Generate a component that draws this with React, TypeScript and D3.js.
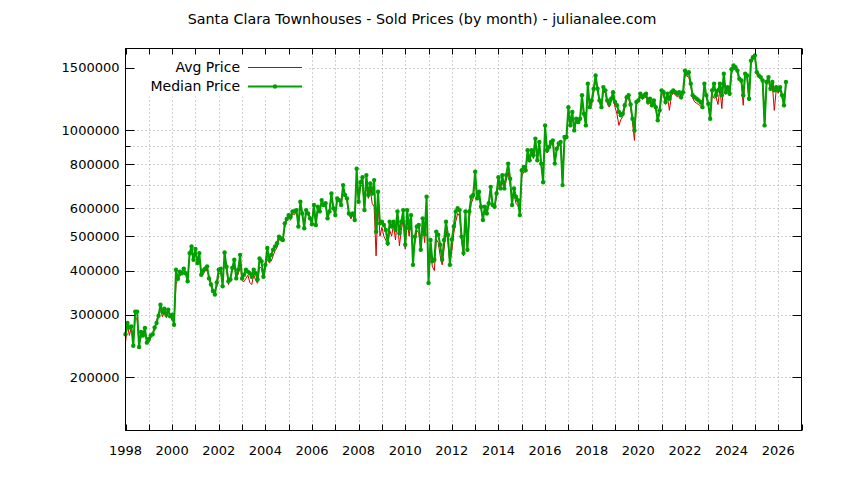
import { useEffect, useRef } from "react";
import * as d3 from "d3";

// first month of the series (Jan 1998), one value per month after that
const startYear = 1998;

// median sold price per month, in $1000s, one row per year
const medianPrice = [
  264, 284, 276, 278, 245, 306, 306, 243, 268, 262, 275, 250,
  256, 262, 264, 276, 284, 298, 320, 305, 312, 300, 310, 297,
  300, 281, 402, 379, 397, 393, 405, 393, 373, 448, 468, 429,
  460, 420, 448, 389, 400, 405, 411, 380, 365, 350, 342, 370,
  402, 405, 361, 450, 410, 373, 377, 407, 429, 380, 402, 443,
  380, 389, 402, 397, 393, 384, 402, 393, 377, 433, 425, 384,
  415, 463, 429, 443, 458, 468, 478, 499, 493, 488, 544, 560,
  574, 568, 588, 588, 593, 533, 626, 580, 527, 593, 580, 562,
  541, 613, 538, 606, 588, 633, 613, 620, 562, 588, 661, 600,
  574, 640, 633, 613, 698, 654, 640, 580, 574, 580, 556, 777,
  626, 711, 735, 593, 745, 654, 705, 661, 721, 515, 668, 544,
  550, 538, 521, 478, 550, 533, 550, 521, 588, 510, 550, 593,
  473, 593, 527, 574, 415, 499, 533, 538, 458, 562, 507, 647,
  369, 488, 425, 429, 515, 505, 473, 429, 488, 550, 504, 415,
  490, 533, 588, 600, 593, 499, 448, 588, 458, 588, 647, 654,
  761, 640, 668, 606, 556, 606, 580, 620, 690, 613, 606, 661,
  735, 683, 745, 683, 745, 803, 728, 613, 683, 647, 633, 574,
  769, 786, 769, 876, 821, 876, 848, 945, 821, 924, 803, 711,
  1030, 876, 895, 924, 934, 803, 885, 915, 924, 698, 955, 955,
  1160, 1030, 1124, 997, 1076, 1052, 1076, 1253, 1112, 1030, 1351, 1160,
  1212, 1308, 1425, 1308, 1212, 1160, 1322, 1294, 1212, 1186, 1225, 1279,
  1199, 1174, 1124, 1100, 1112, 1174, 1238, 1253, 1180, 1076, 997, 1199,
  1212, 1266, 1238, 1253, 1266, 1199, 1225, 1174, 1212, 1160, 1065, 1136,
  1294, 1279, 1199, 1266, 1225, 1279, 1294, 1279, 1266, 1279, 1238, 1279,
  1472, 1443, 1457, 1351, 1253, 1238, 1225, 1212, 1199, 1160, 1351, 1253,
  1186, 1076, 1294, 1351, 1253, 1294, 1351, 1253, 1443, 1279, 1322, 1266,
  1486, 1521, 1504, 1472, 1396, 1380, 1253, 1443, 1425, 1225, 1571, 1607,
  1625, 1457, 1425, 1411, 1380, 1030, 1366, 1411, 1308, 1366, 1294, 1322,
  1294, 1322, 1253, 1174, 1366,
];

// average sold price per month, in $1000s
const avgPrice = [
  250, 280, 262, 276, 248, 296, 290, 248, 258, 270, 266, 254,
  250, 258, 268, 270, 290, 300, 312, 296, 305, 294, 304, 300,
  288, 290, 365, 380, 385, 395, 395, 395, 380, 440, 450, 425,
  450, 425, 435, 395, 390, 400, 400, 385, 370, 355, 350, 360,
  390, 395, 370, 435, 400, 365, 385, 400, 415, 385, 390, 425,
  375, 372, 380, 388, 370, 365, 390, 375, 368, 410, 405, 380,
  405, 445, 420, 425, 440, 455, 465, 490, 485, 485, 530, 555,
  565, 555, 580, 575, 590, 545, 610, 575, 540, 590, 585, 570,
  550, 620, 545, 600, 590, 625, 610, 615, 570, 595, 650, 610,
  580, 630, 640, 610, 680, 660, 630, 585, 560, 575, 560, 750,
  630, 690, 700, 600, 700, 640, 680, 620, 606, 440, 620, 500,
  530, 500, 488, 470, 520, 500, 540, 488, 560, 470, 520, 560,
  460, 560, 500, 556, 440, 480, 520, 510, 458, 540, 480, 600,
  380, 450, 410, 400, 490, 480, 440, 415, 460, 520, 480, 420,
  455, 510, 550, 580, 570, 490, 440, 560, 455, 560, 620, 640,
  735, 635, 660, 600, 560, 600, 585, 610, 670, 610, 600, 650,
  700, 690, 710, 680, 720, 760, 700, 640, 660, 620, 610, 590,
  740, 760, 760, 850, 810, 860, 830, 910, 820, 900, 800, 720,
  990, 860, 880, 905, 915, 810, 870, 900, 905, 710, 930, 945,
  1120, 1020, 1100, 990, 1060, 1040, 1060, 1210, 1100, 1035, 1310, 1150,
  1180, 1270, 1380, 1290, 1200, 1150, 1290, 1270, 1190, 1160, 1200, 1250,
  1160, 1110, 1030, 1070, 1090, 1150, 1220, 1230, 1160, 1050, 934, 1180,
  1200, 1240, 1220, 1230, 1240, 1180, 1200, 1160, 1190, 1140, 1060, 1120,
  1260, 1250, 1180, 1240, 1136, 1250, 1270, 1260, 1240, 1250, 1220, 1250,
  1430, 1420, 1410, 1330, 1230, 1200, 1190, 1180, 1170, 1150, 1320, 1240,
  1170, 1090, 1260, 1228, 1240, 1180, 1310, 1149, 1400, 1260, 1300, 1250,
  1450, 1490, 1480, 1450, 1380, 1360, 1174, 1420, 1400, 1210, 1540, 1580,
  1600, 1440, 1410, 1390, 1360, 1040, 1340, 1390, 1290, 1340, 1136, 1300,
  1270, 1300, 1240, 1160, 1340,
];

const yLabelTicks = [200000, 300000, 400000, 500000, 600000, 800000, 1000000, 1500000];
const yPlainTicks = [700000, 900000];
const xLabelYears = d3.range(1998, 2027, 2);
const xTickYears = d3.range(1998, 2028, 1);

const seriesNames = ["Avg Price", "Median Price"];

export default function App() {
  const ref = useRef<HTMLDivElement>(null);

  useEffect(() => {
    if (!ref.current) return;
    const container = ref.current;
    container.innerHTML = "";

    const width = 844;
    const height = 480;
    const plot = { left: 125.5, right: 801.5, top: 48.5, bottom: 430.5 };
    const font = "'DejaVu Sans', sans-serif";
    const red = "#d40000";
    const green = "#00a000";

    const svg = d3
      .select(container)
      .append("svg")
      .attr("width", width)
      .attr("height", height)
      .style("display", "block")
      .style("background", "#fff");

    // -----------------------------
    // Scales
    // -----------------------------
    const x = d3.scaleLinear().domain([1998, 2027]).range([plot.left, plot.right]);
    const y = d3.scaleLog().domain([141000, 1700000]).range([plot.bottom, plot.top]);

    const toPoints = (arr: number[]) =>
      arr.map((v, i) => ({ t: startYear + i / 12, v: v * 1000 }));
    const avg = toPoints(avgPrice);
    const med = toPoints(medianPrice);

    // -----------------------------
    // Grid
    // -----------------------------
    const grid = svg.append("g")
      .attr("stroke", "#a0a0a0")
      .attr("stroke-width", 1)
      .attr("stroke-dasharray", "1,3");

    grid.selectAll("line.v")
      .data(xTickYears.filter((yr) => yr > 1998 && yr < 2027))
      .join("line")
      .attr("x1", (d) => Math.round(x(d)) + 0.5)
      .attr("x2", (d) => Math.round(x(d)) + 0.5)
      .attr("y1", plot.top)
      .attr("y2", plot.bottom);

    grid.selectAll("line.h")
      .data([...yLabelTicks, ...yPlainTicks])
      .join("line")
      .attr("x1", plot.left)
      .attr("x2", plot.right)
      .attr("y1", (d) => Math.round(y(d)) + 0.5)
      .attr("y2", (d) => Math.round(y(d)) + 0.5);

    // key background hides the grid behind it
    svg.append("rect")
      .attr("x", plot.left + 1)
      .attr("y", plot.top + 1)
      .attr("width", 180)
      .attr("height", 47)
      .attr("fill", "#fff");

    // -----------------------------
    // Lines
    // -----------------------------
    const line = d3
      .line<{ t: number; v: number }>()
      .x((d) => x(d.t))
      .y((d) => y(d.v));

    svg.append("path")
      .datum(avg)
      .attr("d", line)
      .attr("fill", "none")
      .attr("stroke", red)
      .attr("stroke-width", 1);

    svg.append("path")
      .datum(med)
      .attr("d", line)
      .attr("fill", "none")
      .attr("stroke", green)
      .attr("stroke-width", 2)
      .attr("stroke-linejoin", "round");

    svg.append("g")
      .selectAll("circle")
      .data(med)
      .join("circle")
      .attr("cx", (d) => x(d.t))
      .attr("cy", (d) => y(d.v))
      .attr("r", 2.2)
      .attr("fill", green);

    // -----------------------------
    // Border + ticks
    // -----------------------------
    const axes = svg.append("g").attr("stroke", "#000").attr("stroke-width", 1);

    axes.append("rect")
      .attr("x", plot.left)
      .attr("y", plot.top)
      .attr("width", plot.right - plot.left)
      .attr("height", plot.bottom - plot.top)
      .attr("fill", "none");

    xTickYears.forEach((yr) => {
      const px = Math.round(x(yr)) + 0.5;
      axes.append("line").attr("x1", px).attr("x2", px)
        .attr("y1", plot.bottom).attr("y2", plot.bottom - 6);
      axes.append("line").attr("x1", px).attr("x2", px)
        .attr("y1", plot.top).attr("y2", plot.top + 6);
    });

    const yTick = (v: number, len: number) => {
      const py = Math.round(y(v)) + 0.5;
      axes.append("line").attr("x1", plot.left).attr("x2", plot.left + len)
        .attr("y1", py).attr("y2", py);
      axes.append("line").attr("x1", plot.right).attr("x2", plot.right - len)
        .attr("y1", py).attr("y2", py);
    };
    yLabelTicks.forEach((v) => yTick(v, 9));
    yPlainTicks.forEach((v) => yTick(v, 5));

    // -----------------------------
    // Labels
    // -----------------------------
    const text = svg.append("g")
      .style("font-family", font)
      .style("font-size", "13px")
      .attr("fill", "#000");

    text.selectAll("text.y")
      .data(yLabelTicks)
      .join("text")
      .attr("x", plot.left - 6)
      .attr("y", (d) => y(d))
      .attr("dy", "0.36em")
      .attr("text-anchor", "end")
      .text((d) => String(d));

    text.selectAll("text.x")
      .data(xLabelYears)
      .join("text")
      .attr("x", (d) => x(d))
      .attr("y", 455)
      .attr("text-anchor", "middle")
      .text((d) => String(d));

    text.append("text")
      .attr("x", width / 2)
      .attr("y", 24)
      .attr("text-anchor", "middle")
      .style("font-size", "14.3px")
      .text("Santa Clara Townhouses - Sold Prices (by month) - julianalee.com");

    // -----------------------------
    // Legend
    // -----------------------------
    const keyRows = [67, 86];
    seriesNames.forEach((name, i) => {
      const ky = keyRows[i];
      text.append("text")
        .attr("x", 240)
        .attr("y", ky)
        .attr("dy", "0.36em")
        .attr("text-anchor", "end")
        .style("font-size", "14px")
        .text(name);
      svg.append("line")
        .attr("x1", 248).attr("x2", 302)
        .attr("y1", ky + 0.5).attr("y2", ky + 0.5)
        .attr("stroke", i === 0 ? red : green)
        .attr("stroke-width", i === 0 ? 1 : 2);
      if (i === 1) {
        svg.append("circle").attr("cx", 275).attr("cy", ky + 0.5).attr("r", 2.2).attr("fill", green);
      }
    });
  }, []);

  return <div ref={ref} style={{ position: "absolute", left: 0, top: 0 }} />;
}
